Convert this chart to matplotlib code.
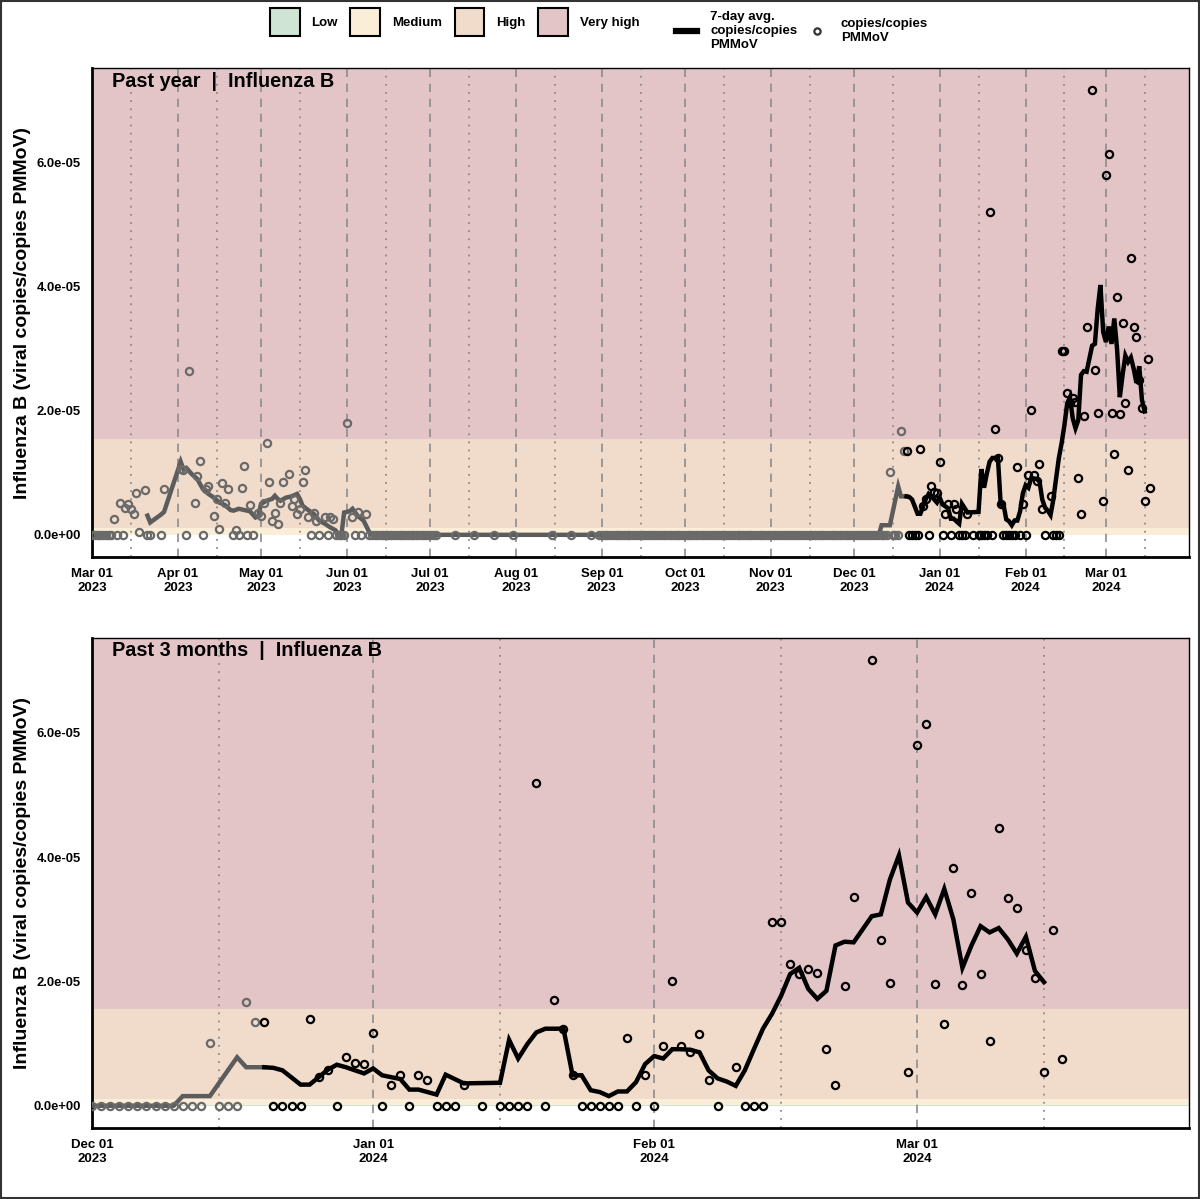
import numpy as np
import pandas as pd
import matplotlib
matplotlib.use("Agg")
import matplotlib.pyplot as plt
import matplotlib.dates as mdates
from matplotlib.patches import Patch, Rectangle
from matplotlib.lines import Line2D

plt.rcParams['font.family'] = ['Liberation Sans', 'DejaVu Sans']
plt.rcParams['font.weight'] = 'bold'

# values are in units of 1e-5 copies/copies PMMoV
SCALE = 1e-5

# spring 2023 wave, day offsets from 2023-03-01
spring_base = "2023-03-01"
spring_pt_days = [0, 1, 2, 3, 4, 5, 6, 7, 8, 9, 10, 11, 12, 13, 14, 15, 16, 17,
                  19, 20, 21,
                  25, 26,
                  32, 33, 34, 35,
                  37, 38, 39, 40, 41, 42,
                  44, 45, 46, 47, 48, 49,
                  51, 52, 53, 54, 55, 56, 57, 58,
                  60, 61, 62, 63, 64, 65, 66, 67, 68, 69,
                  71, 72, 73, 74, 75, 76, 77, 78, 79, 80, 81, 82,
                  84, 85, 86, 87, 88, 89, 90, 91, 92,
                  94, 95, 96, 97,
                  99]
spring_pt_vals = [0, 0, 0, 0, 0, 0, 0, 0, 0.26, 0, 0.51, 0, 0.43, 0.50, 0.41, 0.34, 0.67, 0.05,
                  0.73, 0, 0,
                  0, 0.74,
                  1.06, 1.05, 0, 2.65,
                  0.51, 0.95, 1.19, 0, 0.74, 0.79,
                  0.30, 0.58, 0.09, 0.84, 0.51, 0.74,
                  0, 0.07, 0, 0.76, 1.11, 0, 0.48, 0,
                  0.35, 0.30, 0.52, 1.48, 0.86, 0.23, 0.36, 0.17, 0.52, 0.85,
                  0.98, 0.47, 0.58, 0.33, 0.42, 0.86, 1.05, 0.28, 0, 0.35, 0.23, 0,
                  0.29, 0, 0.29, 0.25, 0, 0, 0, 0, 1.80,
                  0.28, 0, 0.37, 0,
                  0.34]

spring_avg_days = [20, 21, 25, 26, 32, 33, 34, 36, 38, 40, 42, 44, 46, 48, 50, 51,
                   53, 55, 57, 59, 60, 61, 63, 65, 66, 67, 68, 70, 72, 74, 75, 76,
                   78, 80, 82, 84, 86, 88, 89, 90, 91, 93, 94, 95, 96, 98, 100, 101]
spring_avg_vals = [0.31, 0.20, 0.33, 0.37, 1.18, 1.06, 1.08, 0.98, 0.90, 0.74, 0.66, 0.60, 0.52, 0.48, 0.40, 0.39,
                   0.42, 0.40, 0.38, 0.28, 0.30, 0.50, 0.55, 0.58, 0.63, 0.58, 0.55, 0.60, 0.62, 0.66, 0.58, 0.47,
                   0.40, 0.34, 0.23, 0.18, 0.12, 0.07, 0, 0, 0.36, 0.38, 0.42, 0.36, 0.30, 0.23, 0.05, 0]

# summer / autumn: every reading was zero
summer_daily_spans = [("2023-06-09", "2023-07-03"), ("2023-08-31", "2023-12-01")]
summer_weekly = ["2023-07-10", "2023-07-17", "2023-07-24", "2023-07-31",
                 "2023-08-14", "2023-08-21", "2023-08-28"]

# winter 2023-24 wave, day offsets from 2023-12-01
winter_base = "2023-12-01"
winter_zero_days = [1, 2, 3, 4, 5, 6, 7, 8, 9, 10, 11, 12, 14, 15, 16, 20, 21, 22, 23, 27,
                    32, 35, 38, 39, 40, 43, 45, 46, 47, 48, 50, 54, 55, 56, 57, 58, 60, 62,
                    69, 72, 73, 74]
winter_pt_days = [13, 17, 18, 19, 24, 25, 26, 28, 29, 30,
                  31, 33, 34, 36, 37, 41, 49, 51, 52, 53,
                  59, 61, 63, 64, 65, 66, 67, 68, 71, 75,
                  76, 77, 78, 79, 80, 81, 82, 83, 84, 86,
                  87, 88, 90, 91, 92, 93, 94, 95, 96, 97,
                  98, 99, 100, 101, 102, 103, 104, 105, 106, 107]
winter_pt_vals = [1.01, 1.67, 1.35, 1.35, 1.39, 0.47, 0.57, 0.79, 0.69, 0.67,
                  1.17, 0.33, 0.50, 0.50, 0.41, 0.34, 5.20, 1.71, 1.24, 0.49,
                  1.09, 0.50, 0.96, 2.01, 0.96, 0.87, 1.15, 0.41, 0.62, 2.96,
                  2.96, 2.28, 2.12, 2.20, 2.14, 0.91, 0.34, 1.92, 3.36, 7.17,
                  2.66, 1.97, 0.55, 5.81, 6.15, 1.96, 1.31, 3.83, 1.95, 3.42,
                  2.12, 1.05, 4.47, 3.35, 3.19, 2.50, 2.05, 0.55, 2.83, 0.75]

winter_avg_days = [9, 10, 13, 16, 17, 19, 20, 21, 23, 24,
                   26, 27, 28, 29, 30, 31, 32, 33, 34, 35, 36, 37, 38, 39, 40, 41,
                   45, 46, 47, 48, 49, 50,
                   52, 53, 54, 55, 56, 57, 58, 59, 60, 61,
                   62, 63, 64, 65, 66, 67, 68, 69, 70, 71,
                   72, 73, 74, 75, 76, 77, 78, 79, 80, 81,
                   82, 83, 84, 85, 86, 87, 88, 89, 90, 91,
                   92, 93, 94, 95, 96, 97, 98, 99, 100, 101,
                   102, 103, 104, 105]
winter_avg_vals = [0, 0.155, 0.155, 0.78, 0.62, 0.62, 0.61, 0.57, 0.34, 0.34,
                   0.58, 0.66, 0.62, 0.57, 0.52, 0.60, 0.49, 0.46, 0.43, 0.26, 0.26, 0.22, 0.18, 0.50, 0.43, 0.36,
                   0.37, 1.06, 0.76, 0.99, 1.18, 1.24,
                   1.24, 0.49, 0.49, 0.25, 0.22, 0.155, 0.23, 0.23, 0.38, 0.67,
                   0.80, 0.76, 0.91, 0.91, 0.90, 0.86, 0.57, 0.44, 0.39, 0.32,
                   0.57, 0.91, 1.24, 1.48, 1.77, 2.12, 2.22, 1.88, 1.72, 1.85,
                   2.58, 2.64, 2.63, 2.84, 3.05, 3.08, 3.64, 4.03, 3.27, 3.11,
                   3.36, 3.08, 3.49, 3.00, 2.22, 2.58, 2.89, 2.79, 2.86, 2.68,
                   2.45, 2.72, 2.17, 1.99]

# risk levels (band edges, same units)
level_names = ["Low", "Medium", "High", "Very high"]
level_colors = ["#cfe4d4", "#fbeed8", "#f1dccb", "#e3c5c8"]
level_edges = [0.0, 0.005, 0.11, 1.55, 100.0]

recent_cutoff = pd.Timestamp("2023-12-20")
end_date = pd.Timestamp("2024-03-31")


# ---- assemble series
def offsets(base, days):
    return pd.Timestamp(base) + pd.to_timedelta(days, unit="D")

zero_dates = [pd.date_range(a, b, freq="D") for a, b in summer_daily_spans]
zero_dates.append(pd.DatetimeIndex(summer_weekly))
zero_dates = zero_dates[0].append(zero_dates[1:])

pts = pd.concat([
    pd.DataFrame({"date": offsets(spring_base, spring_pt_days), "val": spring_pt_vals}),
    pd.DataFrame({"date": zero_dates, "val": 0.0}),
    pd.DataFrame({"date": offsets(winter_base, winter_zero_days), "val": 0.0}),
    pd.DataFrame({"date": offsets(winter_base, winter_pt_days), "val": winter_pt_vals}),
]).sort_values("date")
pts["val"] = pts["val"] * SCALE

avg = pd.concat([
    pd.DataFrame({"date": offsets(spring_base, spring_avg_days), "val": spring_avg_vals}),
    pd.DataFrame({"date": offsets(winter_base, winter_avg_days), "val": winter_avg_vals}),
]).sort_values("date")
avg["val"] = avg["val"] * SCALE

ymax = pts["val"].max()
ylim = (-0.05 * ymax, 1.05 * ymax)

GREY_LINE = "#5c5c5c"
GREY_PT = "#6a6a6a"


def draw_panel(ax, start, title):
    start = pd.Timestamp(start)
    for (lo, hi), c in zip(zip(level_edges[:-1], level_edges[1:]), level_colors):
        ax.axhspan(lo * SCALE, hi * SCALE, color=c, lw=0, zorder=0)

    months = pd.date_range(start, end_date, freq="MS")
    for m in months:
        ax.axvline(m, color="#8c8c8c", lw=1.2, ls=(0, (5, 4)), zorder=1)
        mid = m + pd.Timedelta(days=14)
        if mid < end_date:
            ax.axvline(mid, color="#8c8c8c", lw=1.3, ls=(0, (1, 3.5)), zorder=1)

    old = avg[avg["date"] <= recent_cutoff]
    new = avg[avg["date"] >= recent_cutoff]
    ax.plot(old["date"], old["val"], color=GREY_LINE, lw=3.2, zorder=3, solid_joinstyle="miter")
    ax.plot(new["date"], new["val"], color="black", lw=3.2, zorder=3, solid_joinstyle="miter")

    p_old = pts[pts["date"] < recent_cutoff]
    p_new = pts[pts["date"] >= recent_cutoff]
    ax.plot(p_old["date"], p_old["val"], ls="none", marker="o", ms=5.2, mfc="none",
            mec=GREY_PT, mew=1.6, zorder=4)
    ax.plot(p_new["date"], p_new["val"], ls="none", marker="o", ms=5.2, mfc="none",
            mec="black", mew=1.6, zorder=4)

    ax.set_xlim(start, end_date)
    ax.set_ylim(*ylim)
    ax.set_xticks(months)
    ax.set_xticklabels([m.strftime("%b %d\n%Y") for m in months], fontsize=9.5, fontweight="bold")
    yt = np.arange(0, 6.1, 2) * SCALE
    ax.set_yticks(yt)
    ax.set_yticklabels([f"{v:.1e}" for v in yt], fontsize=9.4, fontweight="bold")
    ax.tick_params(axis="x", length=0, pad=8)
    ax.tick_params(axis="y", length=0, pad=8)
    for s in ["left", "bottom"]:
        ax.spines[s].set_linewidth(2.0)
    for s in ["top", "right"]:
        ax.spines[s].set_linewidth(1.0)
    ax.set_ylabel("Influenza B (viral copies/copies PMMoV)", fontsize=14, fontweight="bold")
    ax.yaxis.set_label_coords(-0.056, 0.5)
    ax.text(0.0185, 0.993, title, transform=ax.transAxes, ha="left", va="top",
            fontsize=14.3, fontweight="bold", zorder=6)


fig = plt.figure(figsize=(12, 11.99), dpi=100)
ax_top = fig.add_axes([0.0767, 0.5354, 0.9142, 0.4078])
ax_bot = fig.add_axes([0.0767, 0.0592, 0.9142, 0.4087])

draw_panel(ax_top, spring_base, "Past year  |  Influenza B")
draw_panel(ax_bot, winter_base, "Past 3 months  |  Influenza B")

level_handles = [Patch(facecolor=c, edgecolor="black", lw=1.5) for c in level_colors]
leg1 = fig.legend(level_handles, level_names, loc="center left",
                  bbox_to_anchor=(270 / 1200, 1 - 22 / 1199), ncol=4, frameon=False,
                  handlelength=2.25, handleheight=2.8, columnspacing=0.95,
                  handletextpad=0.9, borderpad=0, borderaxespad=0,
                  prop={"weight": "bold", "size": 9.5})

series_handles = [Line2D([], [], color="black", lw=4.5),
                  Line2D([], [], ls="none", marker="o", ms=4.5, mfc="none", mec="#333333", mew=1.6)]
series_labels = ["7-day avg.\ncopies/copies\nPMMoV", "copies/copies\nPMMoV"]
leg2 = fig.legend(series_handles, series_labels, loc="center left",
                  bbox_to_anchor=(676 / 1200, 1 - 31 / 1199), ncol=2, frameon=False,
                  handlelength=1.6, columnspacing=0.7, handletextpad=1.0,
                  borderpad=0, borderaxespad=0, labelspacing=0.2,
                  prop={"weight": "bold", "size": 9.5})

fig.patches.append(Rectangle((0.0008, 0.0008), 0.9984, 0.9984, transform=fig.transFigure,
                             fill=False, edgecolor="#333333", lw=1.5))

fig.savefig("out.png", dpi=100)
